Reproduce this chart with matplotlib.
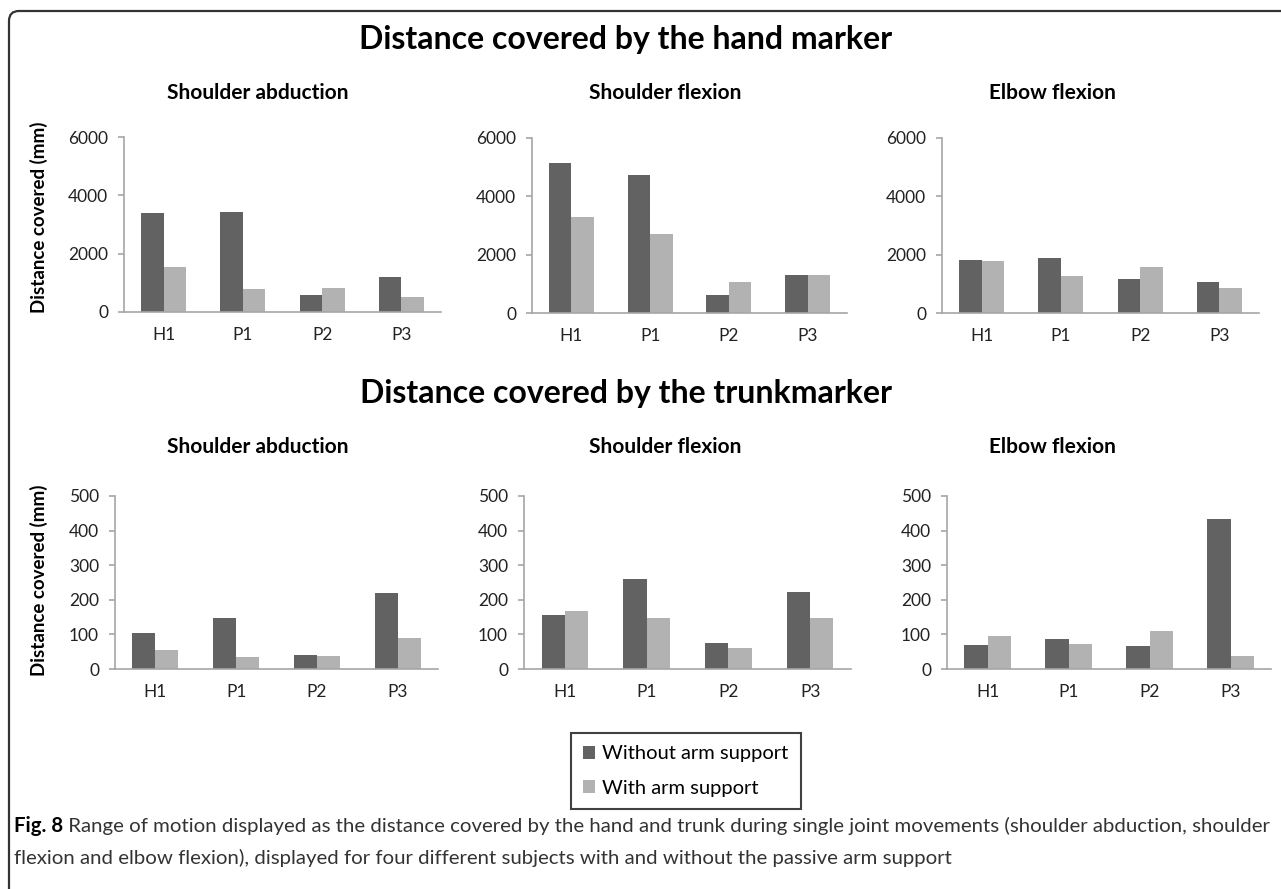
import matplotlib
matplotlib.use("Agg")
import matplotlib.pyplot as plt
from matplotlib.patches import Patch, FancyBboxPatch
from matplotlib.transforms import IdentityTransform
import numpy as np

plt.rcParams['font.family'] = ['Lato', 'DejaVu Sans']

# ---- data ----
subjects = ["H1", "P1", "P2", "P3"]
movements = ["Shoulder abduction", "Shoulder flexion", "Elbow flexion"]

hand_without = [[3400, 3430, 570, 1190],
                [5150, 4720, 620, 1300],
                [1810, 1900, 1150, 1050]]
hand_with = [[1530, 780, 810, 500],
             [3300, 2720, 1050, 1300],
             [1780, 1280, 1590, 870]]

trunk_without = [[104, 147, 40, 219],
                 [156, 261, 75, 222],
                 [69, 88, 67, 433]]
trunk_with = [[54, 36, 38, 91],
              [169, 147, 60, 147],
              [96, 72, 109, 38]]

series_labels = ["Without arm support", "With arm support"]

caption_bold = "Fig. 8"
caption_line1 = (" Range of motion displayed as the distance covered by the hand and trunk during "
                 "single joint movements (shoulder abduction, shoulder")
caption_line2 = ("flexion and elbow flexion), displayed for four different subjects with and "
                 "without the passive arm support")

# ---- style ----
DARK = "#626262"
LIGHT = "#b2b2b2"
AXIS = "#a6a6a6"
TEXT = "#222222"

W, H = 1281, 889
fig = plt.figure(figsize=(W / 100, H / 100), dpi=100)


def rect(x0, y0, x1, y1):
    # pixel box (top-left origin) -> figure fraction
    return [x0 / W, 1 - y1 / H, (x1 - x0) / W, (y1 - y0) / H]


def draw_panel(ax, without, with_, ymax, step):
    x = np.arange(len(subjects))
    w = 0.285
    ax.bar(x - w / 2, without, w, color=DARK, zorder=2)
    ax.bar(x + w / 2, with_, w, color=LIGHT, zorder=2)
    ax.set_xlim(-0.5, len(subjects) - 0.5)
    ax.set_ylim(0, ymax)
    ax.set_yticks(range(0, ymax + 1, step))
    ax.set_xticks(x)
    ax.set_xticklabels(subjects)
    for s in ["top", "right"]:
        ax.spines[s].set_visible(False)
    for s in ["left", "bottom"]:
        ax.spines[s].set_color(AXIS)
        ax.spines[s].set_linewidth(1.2)
    ax.tick_params(axis="x", length=0, pad=11, labelsize=12.5, labelcolor=TEXT)
    ax.tick_params(axis="y", length=4.5, width=1.2, color=AXIS, pad=7,
                   labelsize=12.5, labelcolor=TEXT)


hand_boxes = [(124, 137, 441, 312), (532, 138, 847, 313), (942, 138, 1259, 313)]
trunk_boxes = [(115, 496, 438, 669), (524, 496, 851, 669), (947, 496, 1271, 669)]
sub_x = [258, 665, 1052]

for i in range(3):
    ax = fig.add_axes(rect(*hand_boxes[i]))
    draw_panel(ax, hand_without[i], hand_with[i], 6000, 2000)
    fig.text(sub_x[i] / W, 1 - 93 / H, movements[i], ha="center", va="center",
             fontsize=15, fontweight="bold", color="black")

    ax = fig.add_axes(rect(*trunk_boxes[i]))
    draw_panel(ax, trunk_without[i], trunk_with[i], 500, 100)
    fig.text(sub_x[i] / W, 1 - 447 / H, movements[i], ha="center", va="center",
             fontsize=15, fontweight="bold", color="black")

fig.text(626 / W, 1 - 40 / H, "Distance covered by the hand marker", ha="center",
         va="center", fontsize=23, fontweight="bold", color="black")
fig.text(626 / W, 1 - 393 / H, "Distance covered by the trunkmarker", ha="center",
         va="center", fontsize=23, fontweight="bold", color="black")

fig.text(39 / W, 1 - 217 / H, "Distance covered (mm)", rotation=90, ha="center",
         va="center", fontsize=13.5, fontweight="bold", color="black")
fig.text(39 / W, 1 - 580 / H, "Distance covered (mm)", rotation=90, ha="center",
         va="center", fontsize=13.5, fontweight="bold", color="black")

# legend
handles = [Patch(facecolor=DARK, edgecolor="none"), Patch(facecolor=LIGHT, edgecolor="none")]
leg = fig.legend(handles, series_labels, loc="center",
                 bbox_to_anchor=(686 / W, 1 - 771 / H), fontsize=14.5,
                 handlelength=0.6, handleheight=0.65, handletextpad=0.35,
                 labelspacing=0.85, borderpad=0.6, borderaxespad=0,
                 fancybox=False, frameon=True)
leg.get_frame().set_edgecolor("#111111")
leg.get_frame().set_linewidth(1.5)

# caption
t = fig.text(14 / W, 1 - 826 / H, caption_bold, ha="left", va="center",
             fontsize=14.7, fontweight="bold", color="black")
fig.canvas.draw()
bb = t.get_window_extent(fig.canvas.get_renderer())
fig.text(bb.x1 / W, 1 - 826 / H, caption_line1, ha="left", va="center",
         fontsize=14.7, color="#333333")
fig.text(14 / W, 1 - 858 / H, caption_line2, ha="left", va="center",
         fontsize=14.7, color="#333333")

# rounded frame (runs off the right and bottom edges)
frame = FancyBboxPatch((9, -40), 1400, H - 11 + 40, boxstyle="round,pad=0,rounding_size=10",
                       transform=IdentityTransform(), fill=False, edgecolor="#333333",
                       linewidth=1.6)
fig.patches.append(frame)

fig.savefig("out.png", dpi=100)
